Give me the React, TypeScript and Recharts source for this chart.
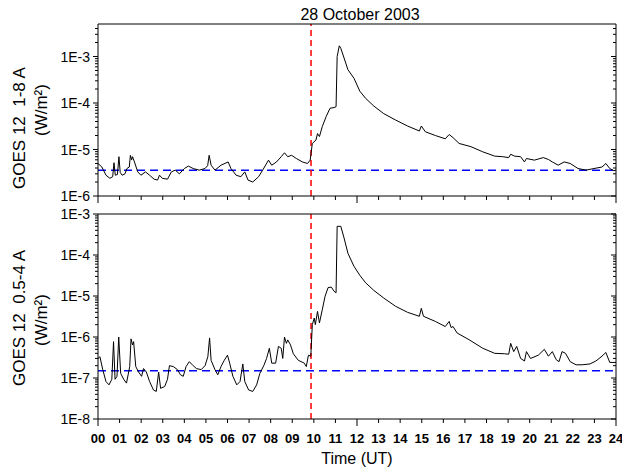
import { LineChart, Line, XAxis, YAxis, ReferenceLine, Label } from "recharts";

// GOES-12 X-ray flux, 28 October 2003 (X17 flare)

const FONT = "Arial, 'Liberation Sans', Helvetica, sans-serif";

// 1-8 A channel
const hoursLong = [
  0, 0.18, 0.37, 0.55, 0.68, 0.74, 0.8, 0.9, 0.97, 1.03,
  1.12, 1.25, 1.34, 1.45, 1.5, 1.56, 1.6, 1.69, 1.84, 1.99,
  2.2, 2.39, 2.6, 2.76, 2.85, 2.98, 3.22, 3.4, 3.58, 3.77,
  4.0, 4.19, 4.41, 4.69, 4.96, 5.08, 5.15, 5.24, 5.42, 5.7,
  6.03, 6.16, 6.4, 6.62, 6.8, 6.95, 7.17, 7.44, 7.63, 7.9,
  8.05, 8.27, 8.49, 8.64, 8.79, 8.97, 9.19, 9.47, 9.71, 9.83,
  9.93, 10.1, 10.17, 10.26, 10.39, 10.57, 10.75, 10.94, 11.03, 11.08,
  11.18, 11.25, 11.4, 11.58, 11.86, 12.13, 12.4, 12.78, 13.24, 13.79,
  14.34, 14.89, 14.98, 15.17, 15.63, 16.09, 16.27, 16.45, 16.73, 17.28,
  17.83, 18.38, 18.75, 19.03, 19.12, 19.3, 19.58, 19.76, 19.85, 20.22,
  20.63, 20.87, 21.05, 21.32, 21.6, 21.88, 22.24, 22.61, 22.98, 23.35,
  23.53, 23.71, 23.9, 24,
];
const fluxLong = [
  5.0e-6, 4.2e-6, 2.8e-6, 2.4e-6, 2.6e-6, 5.2e-6, 2.8e-6, 2.9e-6, 7.0e-6, 3.2e-6,
  2.8e-6, 3.0e-6, 3.9e-6, 4.2e-6, 7.5e-6, 6.0e-6, 7.0e-6, 5.4e-6, 3.3e-6, 2.8e-6,
  3.3e-6, 2.8e-6, 2.3e-6, 2.2e-6, 2.8e-6, 2.4e-6, 2.3e-6, 3.3e-6, 3.6e-6, 3.0e-6,
  3.9e-6, 4.4e-6, 3.9e-6, 3.6e-6, 3.9e-6, 4.5e-6, 7.5e-6, 4.6e-6, 3.6e-6, 4.6e-6,
  5.4e-6, 3.9e-6, 2.8e-6, 2.6e-6, 3.3e-6, 2.2e-6, 2.0e-6, 2.6e-6, 3.6e-6, 5.9e-6,
  4.6e-6, 5.4e-6, 7.0e-6, 8.5e-6, 7.0e-6, 7.5e-6, 6.4e-6, 5.4e-6, 5.0e-6, 5.9e-6,
  1.35e-5, 1.6e-5, 2.2e-5, 1.9e-5, 3.1e-5, 5.1e-5, 7.7e-5, 8.0e-5, 8.3e-5, 1.0e-3,
  1.7e-3, 1.5e-3, 9.3e-4, 5.2e-4, 3.4e-4, 1.8e-4, 1.26e-4, 8.6e-5, 5.9e-5, 4.3e-5,
  3.2e-5, 2.5e-5, 3.2e-5, 2.4e-5, 2.0e-5, 1.7e-5, 2.1e-5, 1.8e-5, 1.35e-5, 1.15e-5,
  8.9e-6, 7.2e-6, 7.0e-6, 6.7e-6, 7.9e-6, 7.2e-6, 7.0e-6, 5.4e-6, 6.4e-6, 5.9e-6,
  6.7e-6, 6.1e-6, 5.4e-6, 4.6e-6, 5.4e-6, 5.0e-6, 3.9e-6, 3.6e-6, 3.9e-6, 4.2e-6,
  5.0e-6, 3.9e-6, 3.5e-6, 3.6e-6,
];

// 0.5-4 A channel
const hoursShort = [
  0, 0.09, 0.22, 0.37, 0.51, 0.64, 0.72, 0.79, 0.88, 0.96,
  1.05, 1.19, 1.32, 1.47, 1.53, 1.6, 1.65, 1.75, 1.88, 2.02,
  2.11, 2.24, 2.39, 2.57, 2.7, 2.81, 2.9, 3.09, 3.22, 3.31,
  3.49, 3.68, 3.82, 3.95, 4.08, 4.23, 4.41, 4.56, 4.78, 4.96,
  5.09, 5.17, 5.24, 5.42, 5.55, 5.7, 5.85, 6.0, 6.1, 6.25,
  6.43, 6.58, 6.71, 6.8, 6.98, 7.17, 7.35, 7.5, 7.68, 7.81,
  7.94, 8.05, 8.23, 8.36, 8.49, 8.56, 8.64, 8.73, 8.79, 8.92,
  9.05, 9.28, 9.56, 9.65, 9.75, 9.86, 9.93, 10.02, 10.07, 10.17,
  10.26, 10.39, 10.52, 10.66, 10.81, 10.94, 11.03, 11.08, 11.25, 11.4,
  11.58, 11.86, 12.13, 12.4, 12.78, 13.24, 13.79, 14.34, 14.89, 14.98,
  15.08, 15.63, 16.09, 16.27, 16.36, 16.45, 16.64, 17.19, 17.83, 18.38,
  18.84, 19.03, 19.12, 19.26, 19.4, 19.58, 19.76, 19.85, 20.04, 20.4,
  20.68, 20.87, 21.05, 21.23, 21.36, 21.5, 21.66, 21.88, 22.15, 22.43,
  22.79, 23.07, 23.35, 23.53, 23.71, 24,
];
const fluxShort = [
  3.0e-7, 3.3e-7, 1.6e-7, 8.2e-8, 6.8e-8, 9.3e-8, 7.7e-7, 9.3e-8, 1.1e-7, 1.0e-6,
  1.3e-7, 9.3e-8, 7.5e-8, 1.9e-7, 9.0e-7, 6.4e-7, 7.7e-7, 1.9e-7, 1.4e-7, 1.1e-7,
  1.7e-7, 1.4e-7, 8.2e-8, 5.1e-8, 4.7e-8, 1.4e-7, 5.6e-8, 6.2e-8, 9.3e-8, 2.0e-7,
  1.9e-7, 1.6e-7, 1.2e-7, 1.1e-7, 1.9e-7, 2.5e-7, 2.0e-7, 1.7e-7, 1.6e-7, 2.0e-7,
  3.3e-7, 9.5e-7, 2.7e-7, 1.6e-7, 1.2e-7, 1.9e-7, 2.7e-7, 3.6e-7, 2.3e-7, 1.1e-7,
  6.8e-8, 8.2e-8, 2.2e-7, 8.2e-8, 5.1e-8, 4.7e-8, 6.8e-8, 1.3e-7, 2.0e-7, 3.0e-7,
  5.3e-7, 2.3e-7, 2.3e-7, 5.9e-7, 5.3e-7, 3.0e-7, 1.0e-6, 7.0e-7, 8.5e-7, 6.4e-7,
  3.9e-7, 2.7e-7, 2.3e-7, 1.9e-7, 3.6e-7, 3.4e-7, 2.0e-6, 2.9e-6, 2.0e-6, 4.2e-6,
  2.2e-6, 4.6e-6, 9.8e-6, 1.6e-5, 1.65e-5, 1.3e-5, 1.2e-5, 5.0e-4, 5.0e-4, 2.6e-4,
  1.1e-4, 5.3e-5, 3.2e-5, 2.1e-5, 1.37e-5, 8.9e-6, 5.6e-6, 4.0e-6, 3.2e-6, 5.0e-6,
  3.2e-6, 2.4e-6, 1.8e-6, 2.4e-6, 1.7e-6, 1.8e-6, 1.25e-6, 8.6e-7, 5.3e-7, 4.0e-7,
  3.9e-7, 3.8e-7, 7.0e-7, 4.4e-7, 5.9e-7, 3.0e-7, 2.6e-7, 4.4e-7, 3.0e-7, 3.6e-7,
  5.0e-7, 3.4e-7, 4.4e-7, 2.8e-7, 2.5e-7, 4.4e-7, 4.0e-7, 2.5e-7, 2.1e-7, 2.1e-7,
  2.2e-7, 2.6e-7, 3.4e-7, 4.2e-7, 2.4e-7, 2.4e-7,
];

const hourTicks = [0, 1, 2, 3, 4, 5, 6, 7, 8, 9, 10, 11, 12, 13, 14, 15, 16, 17, 18, 19, 20, 21, 22, 23, 24];
const longDomain = [1e-6, 5e-3];
const shortDomain = [1e-8, 1e-3];
const flareStart = 9.87; // UT hours
const longBackground = 3.6e-6;
const shortBackground = 1.5e-7;

const longData = hoursLong.map((h, i) => ({ hour: h, flux: fluxLong[i] }));
const shortData = hoursShort.map((h, i) => ({ hour: h, flux: fluxShort[i] }));

// decade ticks plus 2..9 minor ticks inside the domain
function logTicks(lo: number, hi: number) {
  const out: number[] = [];
  for (let e = Math.round(Math.log10(lo)); e <= Math.round(Math.log10(hi)); e++) {
    for (let m = 1; m <= 9; m++) {
      const v = m * Math.pow(10, e);
      if (v >= lo * 0.999 && v < hi * 0.999) out.push(v);
      else if (m === 1 && Math.abs(v - hi) / hi < 1e-6) out.push(v);
    }
  }
  return out;
}

const isDecade = (v: number) => {
  const e = Math.log10(v);
  return Math.abs(e - Math.round(e)) < 1e-6;
};

const LeftLogTick = ({ x, y, payload }: any) => {
  const major = isDecade(payload.value);
  return (
    <g>
      <line x1={x} x2={x - (major ? 5 : 3)} y1={y} y2={y} stroke="#000" />
      {major && (
        <text x={x - 8} y={y + 5} textAnchor="end" fontSize={14} fontFamily={FONT} fill="#000">
          {`1E${Math.round(Math.log10(payload.value))}`}
        </text>
      )}
    </g>
  );
};

const RightLogTick = ({ x, y, payload }: any) => {
  const major = isDecade(payload.value);
  return <line x1={x} x2={x - (major ? 5 : 3)} y1={y} y2={y} stroke="#000" />;
};

const HourTick = ({ x, y, payload, showLabel }: any) => {
  const major = payload.value % 12 === 0;
  return (
    <g>
      <line x1={x} x2={x} y1={y} y2={y + (major ? 7 : 4)} stroke="#000" />
      {showLabel && (
        <text x={x} y={y + 24} textAnchor="middle" fontSize={13} fontWeight="bold" fontFamily={FONT} fill="#000">
          {String(payload.value).padStart(2, "0")}
        </text>
      )}
    </g>
  );
};

const AxisTitle = ({ line1, c1, line2, c2 }: { line1: string; c1: number; line2: string; c2: number }) => (
  <g fontFamily={FONT} fontSize={17} fill="#000">
    <text x={19} y={c1} textAnchor="middle" dominantBaseline="central" transform={`rotate(-90, 19, ${c1})`}>
      {line1}
    </text>
    <text x={41} y={c2} textAnchor="middle" dominantBaseline="central" transform={`rotate(-90, 41, ${c2})`}>
      {line2}
    </text>
  </g>
);

function Panel({
  data,
  domain,
  background,
  height,
  margin,
  xHeight,
  showHourLabels,
  title,
  yTitle,
}: any) {
  const ticks = logTicks(domain[0], domain[1]);
  return (
    <LineChart width={622} height={height} data={data} margin={margin}>
      <XAxis
        dataKey="hour"
        type="number"
        domain={[0, 24]}
        ticks={hourTicks}
        interval={0}
        height={xHeight}
        tickSize={0}
        tickMargin={0}
        axisLine={{ stroke: "#000" }}
        tick={(p: any) => <HourTick {...p} showLabel={showHourLabels} />}
      >
        {showHourLabels && (
          <Label
            content={() => (
              <text x={357} y={264} textAnchor="middle" fontSize={16} fontFamily={FONT} fill="#000">
                Time (UT)
              </text>
            )}
          />
        )}
      </XAxis>
      <XAxis
        xAxisId="top"
        orientation="top"
        type="number"
        domain={[0, 24]}
        height={1}
        tick={false}
        tickLine={false}
        axisLine={{ stroke: "#000" }}
      >
        {title && (
          <Label
            content={() => (
              <text x={360} y={20} textAnchor="middle" fontSize={16} fontFamily={FONT} fill="#000">
                {title}
              </text>
            )}
          />
        )}
      </XAxis>
      <YAxis
        scale="log"
        type="number"
        domain={domain}
        allowDataOverflow
        ticks={ticks}
        interval={0}
        width={98}
        tickSize={0}
        tickMargin={0}
        axisLine={{ stroke: "#000" }}
        tick={<LeftLogTick />}
      >
        <Label content={() => yTitle} />
      </YAxis>
      <YAxis
        yAxisId="right"
        orientation="right"
        scale="log"
        type="number"
        domain={domain}
        allowDataOverflow
        ticks={ticks}
        interval={0}
        width={1}
        tickSize={0}
        tickMargin={0}
        axisLine={{ stroke: "#000" }}
        tick={<RightLogTick />}
      />
      <ReferenceLine y={background} stroke="#0000ff" strokeWidth={1.5} strokeDasharray="8 5" />
      <ReferenceLine x={flareStart} stroke="#ff0000" strokeWidth={1.5} strokeDasharray="6 4" />
      <Line
        type="linear"
        dataKey="flux"
        stroke="#000"
        strokeWidth={1}
        dot={false}
        isAnimationActive={false}
      />
    </LineChart>
  );
}

export default function App() {
  return (
    <div style={{ position: "absolute", left: 0, top: 0, width: 622, height: 470, background: "#fff" }}>
      <div style={{ position: "absolute", left: 0, top: 0 }}>
        <Panel
          data={longData}
          domain={longDomain}
          background={longBackground}
          height={206}
          margin={{ top: 23, right: 5, bottom: 9, left: 0 }}
          xHeight={1}
          showHourLabels={false}
          title="28 October 2003"
          yTitle={<AxisTitle line1={"GOES 12\u00a0\u00a01-8 A"} c1={128} line2="(W/m²)" c2={110} />}
        />
      </div>
      <div style={{ position: "absolute", left: 0, top: 200 }}>
        <Panel
          data={shortData}
          domain={shortDomain}
          background={shortBackground}
          height={270}
          margin={{ top: 13, right: 5, bottom: 0, left: 0 }}
          xHeight={51}
          showHourLabels
          yTitle={<AxisTitle line1={"GOES 12\u00a0\u00a00.5-4 A"} c1={118} line2="(W/m²)" c2={120} />}
        />
      </div>
    </div>
  );
}
